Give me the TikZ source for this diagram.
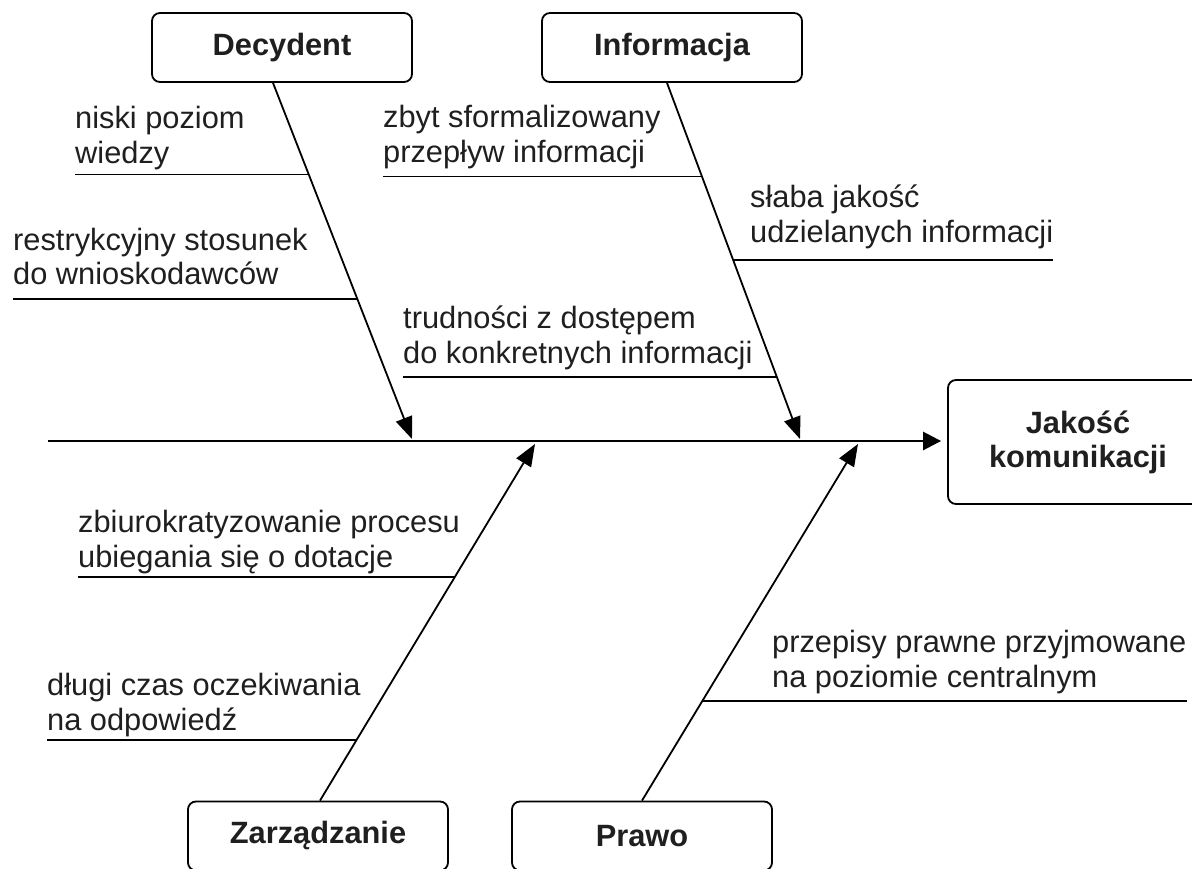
\documentclass[tikz,border=0pt]{standalone}
\usepackage{fontspec}
\setmainfont{Liberation Sans}
\usetikzlibrary{arrows.meta,calc}

\tikzset{
	Kat/.style={draw=black,line width=1.8pt,rounded corners=8pt,minimum width=260pt,minimum height=69pt,
		inner sep=0pt,align=center,font=\bfseries\fontsize{30.8}{34}\selectfont,text=black!88}
}
\tikzset{
	Opis/.style={anchor=base west,align=left,inner sep=0pt,font=\fontsize{30.8}{35}\selectfont,text=black!88}
}
\tikzset{
	Os/.style={line width=1.8pt,-{Triangle[length=22pt,width=17pt]}},
	Kreska/.style={line width=1.8pt}
}

\begin{document}
\begin{tikzpicture}[x=1pt,y=-1pt]
\useasboundingbox (0,0) rectangle (1192,869);

%Kategorie
\node[Kat] (dec) at (282,47.5) {Decydent};
\node[Kat] (inf) at (672,47.5) {Informacja};
\node[Kat] (zar) at (318,836) {Zarządzanie};
\node[Kat] (pra) at (642,836) {Prawo};
\node[Kat,minimum height=124pt] (jak) at (1078,442) {Jakość\\komunikacji};

%Os glowna
\coordinate (start) at (48,441);
\draw[line width=2.6pt,-{Triangle[length=18pt,width=18pt]},shorten >=6pt] (start) -- (start -| jak.west);

%Osci
\coordinate (t1) at (412,439);
\coordinate (t2) at (800,439);
\coordinate (t3) at (535,444);
\coordinate (t4) at (858,444);
\draw[Os] ([xshift=-9pt]dec.south) -- coordinate[pos=0.257] (d1) coordinate[pos=0.606] (d2) (t1);
\draw[Os] ([xshift=-5pt]inf.south) -- coordinate[pos=0.263] (i1) coordinate[pos=0.497] (i2) coordinate[pos=0.827] (i3) (t2);
\draw[Os] ([xshift=2pt]zar.north) -- coordinate[pos=0.170] (z2) coordinate[pos=0.626] (z1) (t3);
\draw[Os] (pra.north) -- coordinate[pos=0.279] (p1) (t4);

%Przyczyny (base = druga linia)
\node[Opis] (n1) at (75,164) {niski poziom\\wiedzy};
\node[Opis] (n2) at (13,285) {restrykcyjny stosunek\\do wnioskodawców};
\node[Opis] (n3) at (383,163) {zbyt sformalizowany\\przepływ informacji};
\node[Opis] (n4) at (750,243) {słaba jakość\\udzielanych informacji};
\node[Opis] (n5) at (403,363) {trudności z dostępem\\do konkretnych informacji};
\node[Opis] (n6) at (78,567) {zbiurokratyzowanie procesu\\ubiegania się o dotacje};
\node[Opis] (n7) at (47,730) {długi czas oczekiwania\\na odpowiedź};
\node[Opis] (n8) at (772,687) {przepisy prawne przyjmowane\\na poziomie centralnym};

\draw[Kreska] (d1) -- (d1 -| n1.west);
\draw[Kreska] (d2) -- (d2 -| n2.west);
\draw[Kreska] (i1) -- (i1 -| n3.west);
\draw[Kreska] (i2) -- (i2 -| n4.east);
\draw[Kreska] (i3) -- (i3 -| n5.west);
\draw[Kreska] (z1) -- (z1 -| n6.west);
\draw[Kreska] (z2) -- (z2 -| n7.west);
\draw[Kreska] (p1) -- (p1 -| n8.east);
\end{tikzpicture}
\end{document}
